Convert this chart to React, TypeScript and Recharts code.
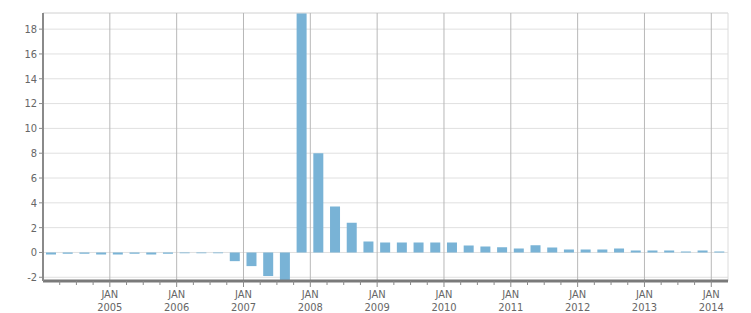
import { BarChart, Bar, XAxis, YAxis, CartesianGrid, ReferenceLine } from 'recharts'

// quarterly values, Q1 2004 .. Q1 2014
const START_YEAR = 2004
const quarters = [
  '2004 Q1', '2004 Q2', '2004 Q3', '2004 Q4',
  '2005 Q1', '2005 Q2', '2005 Q3', '2005 Q4',
  '2006 Q1', '2006 Q2', '2006 Q3', '2006 Q4',
  '2007 Q1', '2007 Q2', '2007 Q3', '2007 Q4',
  '2008 Q1', '2008 Q2', '2008 Q3', '2008 Q4',
  '2009 Q1', '2009 Q2', '2009 Q3', '2009 Q4',
  '2010 Q1', '2010 Q2', '2010 Q3', '2010 Q4',
  '2011 Q1', '2011 Q2', '2011 Q3', '2011 Q4',
  '2012 Q1', '2012 Q2', '2012 Q3', '2012 Q4',
  '2013 Q1', '2013 Q2', '2013 Q3', '2013 Q4',
  '2014 Q1',
]
const values = [
  -0.16, -0.1, -0.1, -0.16,
  -0.16, -0.1, -0.16, -0.1,
  -0.06, -0.06, -0.06, -0.7,
  -1.1, -1.9, -2.6, 19.8,
  8.0, 3.7, 2.4, 0.89,
  0.81, 0.81, 0.81, 0.81,
  0.81, 0.56, 0.48, 0.42,
  0.32, 0.59, 0.4, 0.24,
  0.24, 0.24, 0.32, 0.16,
  0.16, 0.16, 0.08, 0.16,
  0.08,
]
const yTicks = [-2, 0, 2, 4, 6, 8, 10, 12, 14, 16, 18]
const Y_MIN = -2.3
const Y_MAX = 19.3
const yearLabels = ['2005', '2006', '2007', '2008', '2009', '2010', '2011', '2012', '2013', '2014']

const data = quarters.map((q, i) => ({ q, x: i + 0.5, v: values[i] }))
const xTicks = quarters.slice(1).map((_, i) => i + 1)
const janTicks = yearLabels.map((_, i) => (i + 1) * 4)

const FONT = "'DejaVu Sans Condensed', 'Liberation Sans', sans-serif"
const COR_BARRA = '#79b3d6'

function QuarterTick(props: { x?: number; y?: number; payload?: { value: number } }) {
  const { x = 0, y = 0, payload } = props
  const v = payload?.value ?? 0
  const isJan = v % 4 === 0
  const year = yearLabels[v / 4 - 1] ?? String(START_YEAR + v / 4)
  return (
    <g>
      <line x1={x} x2={x} y1={y} y2={y + (isJan ? 6 : 4)} stroke="#8a8a8a" strokeWidth={1} />
      {isJan && (
        <text x={x} y={y} textAnchor="middle" fill="#666" fontSize={11} fontFamily={FONT}>
          <tspan x={x} dy={16.5}>JAN</tspan>
          <tspan x={x} dy={13}>{year}</tspan>
        </text>
      )}
    </g>
  )
}

export default function App() {
  return (
    <div style={{ position: 'absolute', left: 0, top: 0, background: '#fff' }}>
      <BarChart width={751} height={313} data={data} margin={{ top: 13, right: 23, left: 0, bottom: 0 }}>
        <CartesianGrid vertical={false} stroke="#e0e0e0" />
        <ReferenceLine y={Y_MAX} stroke="#e0e0e0" />
        <ReferenceLine x={quarters.length} stroke="#dcdcdc" />
        {janTicks.map((t) => (
          <ReferenceLine key={t} x={t} stroke="#b8b8b8" />
        ))}
        <XAxis
          type="number" dataKey="x" domain={[0, quarters.length]} ticks={xTicks} interval={0}
          height={32} tickSize={0} tickMargin={0} tickLine={false}
          axisLine={{ stroke: '#7a7a7a', strokeWidth: 3 }}
          tick={<QuarterTick />}
        />
        <YAxis
          type="number" domain={[Y_MIN, Y_MAX]} ticks={yTicks} allowDataOverflow width={43}
          tickSize={4} tickMargin={2}
          axisLine={{ stroke: '#8a8a8a', strokeWidth: 2 }} tickLine={{ stroke: '#8a8a8a' }}
          tick={{ fill: '#666', fontSize: 11, fontFamily: FONT }}
        />
        <Bar dataKey="v" fill={COR_BARRA} barSize={10} isAnimationActive={false} />
      </BarChart>
    </div>
  )
}
